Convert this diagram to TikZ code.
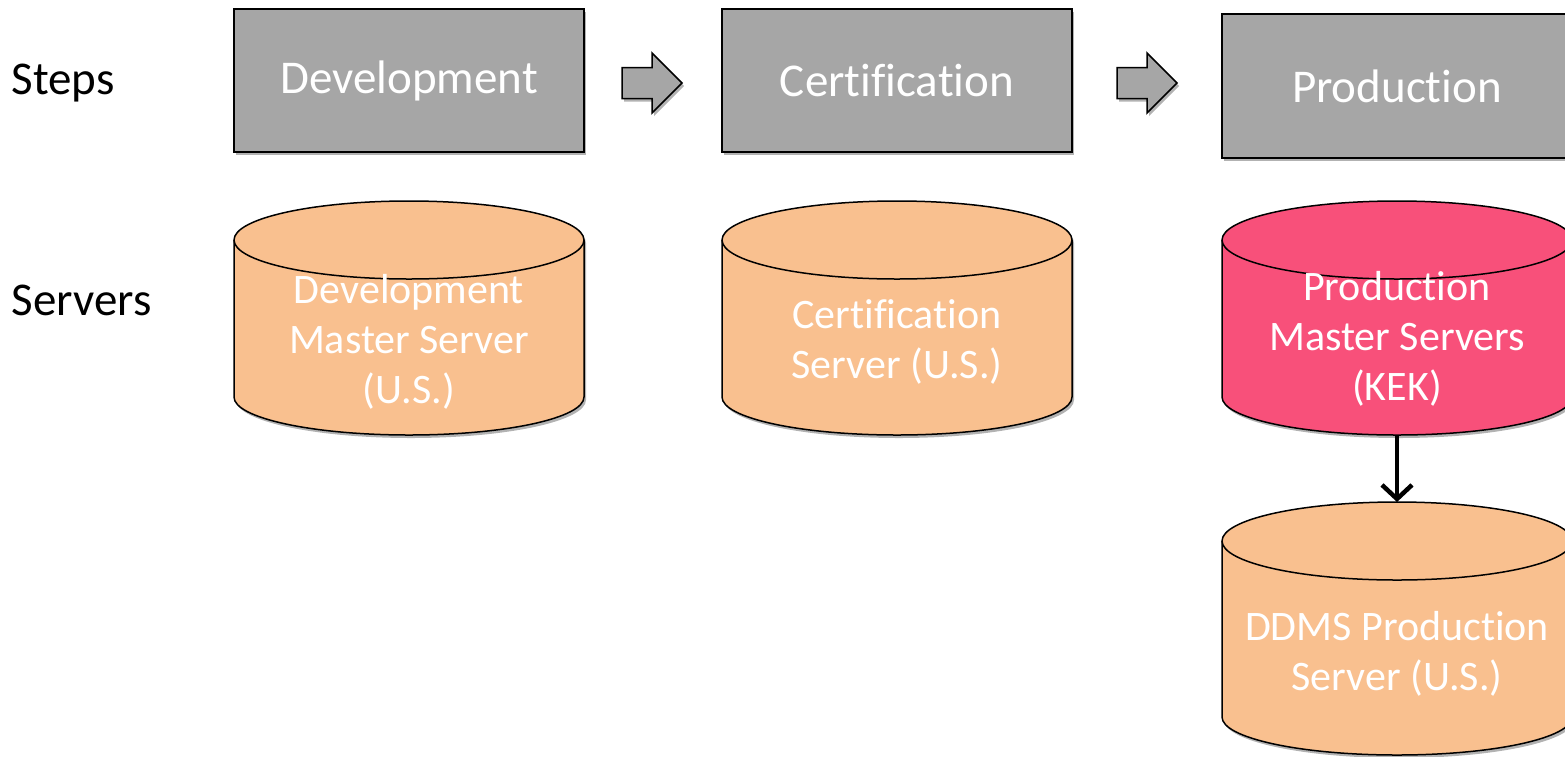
\documentclass[tikz,border=0pt]{standalone}
\usepackage{fontspec}
\setmainfont{Carlito}[Ligatures=NoCommon]
\usetikzlibrary{shadows,arrows.meta}
\definecolor{stepgray}{HTML}{A6A6A6}
\definecolor{peach}{HTML}{F9C08F}
\definecolor{rosered}{HTML}{F8507A}
\newcommand\dbcyl[5]{%
  \path[draw=black,line width=1.5pt,fill=#5,myshadow]
    (#2-175,-#3) -- (#2-175,-#4)
    arc[start angle=180,end angle=360,x radius=175,y radius=38]
    -- (#2+175,-#3)
    arc[start angle=0,end angle=180,x radius=175,y radius=39] -- cycle;
  \draw[line width=1.5pt] (#2-175,-#3) arc[start angle=180,end angle=360,x radius=175,y radius=39];
  \coordinate (#1-top) at (#2,-#3+39);
  \coordinate (#1-bot) at (#2,-#4-38);
}
\newcommand\blockarr[2]{%
  \coordinate (#1) at (#2,-83);
  \path[draw=black,line width=1.5pt,fill=stepgray,myshadow,line join=miter]
    ([xshift=-30pt,yshift=15.5pt]#1) -- ([yshift=15.5pt]#1) -- ([yshift=30pt]#1)
    -- ([xshift=30pt]#1) -- ([yshift=-30pt]#1) -- ([yshift=-15.5pt]#1)
    -- ([xshift=-30pt,yshift=-15.5pt]#1) -- cycle;
}
\begin{document}
\begin{tikzpicture}[x=1pt,y=1pt,
  myshadow/.style={drop shadow={shadow xshift=2pt,shadow yshift=-3pt,opacity=0.3,fill=black}},
  stepbox/.style={draw=black,line width=1.5pt,fill=stepgray,minimum width=350pt,minimum height=143pt,
    text=white,font=\fontsize{47}{56}\selectfont,myshadow},
  srvtext/.style={text=white,align=center,font=\fontsize{42}{50}\selectfont},
  rowlabel/.style={anchor=west,text=black,font=\fontsize{47}{56}\selectfont}]
\useasboundingbox (0,0) rectangle (1565,-756);
\clip (0,0) rectangle (1565,-756);
\fill[white] (0,0) rectangle (1565,-756);

\node[rowlabel] (steps) at (8,-83) {Steps};
\node[rowlabel] (servers) at (8,-300) {Servers};

\node[stepbox] (dev) at (409,-80.5) {Development};
\node[stepbox] (cert) at (897,-80.5) {Certification};
\node[stepbox,minimum height=144pt] (prod) at (1397,-86) {Production};

\blockarr{a1}{652}
\blockarr{a2}{1147}

\dbcyl{c1}{409}{240}{397}{peach}
\dbcyl{c2}{897}{240}{397}{peach}
\dbcyl{c3}{1397}{240}{397}{rosered}
\dbcyl{c4}{1397}{541}{717}{peach}

\node[srvtext] (t1) at (409,-342) {Development\\Master Server\\(U.S.)};
\node[srvtext] (t2) at (897,-342) {Certification\\Server (U.S.)};
\node[srvtext] (t3) at (1397,-339) {Production\\Master Servers\\(KEK)};
\node[srvtext] (t4) at (1397,-654) {DDMS Production\\Server (U.S.)};

\draw[line width=4.5pt,-{Straight Barb[length=14pt,width=30pt]}] (c3-bot) -- (c4-top);
\end{tikzpicture}
\end{document}
